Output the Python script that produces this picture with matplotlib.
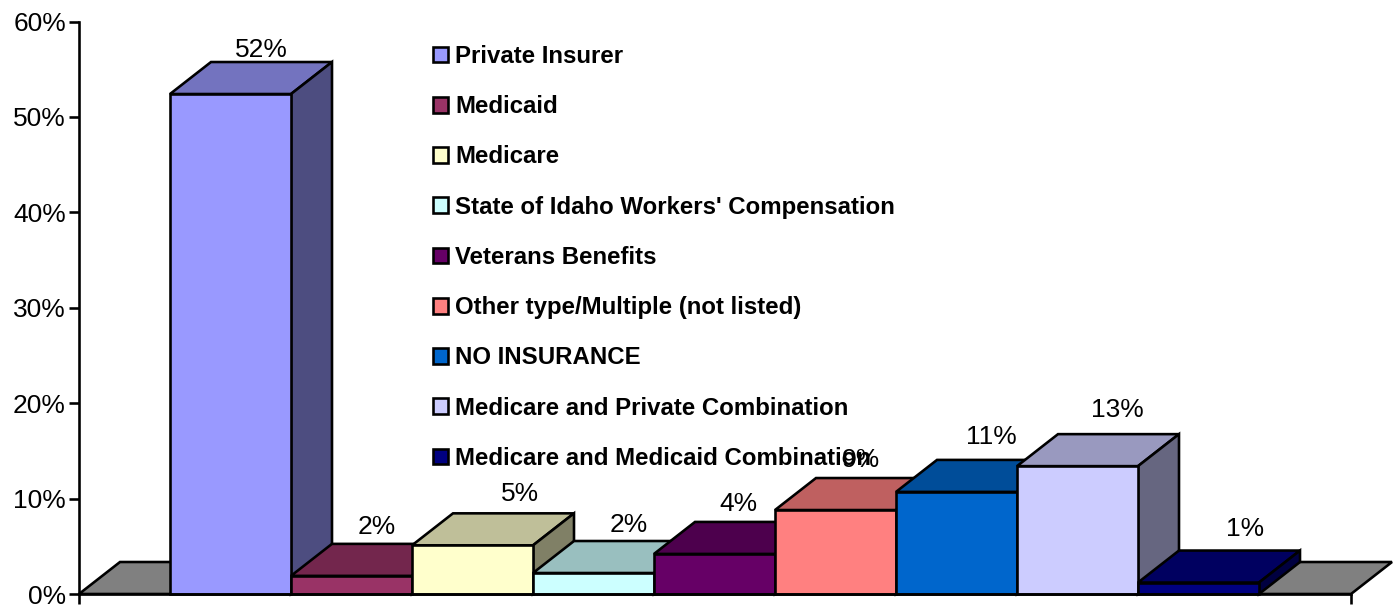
import matplotlib
matplotlib.use('Agg')
import matplotlib.pyplot as plt
from matplotlib.colors import to_rgb
from matplotlib.patches import Polygon, Patch

plt.rcParams['font.family'] = ['Liberation Sans', 'DejaVu Sans']

categories = ['Private Insurer', 'Medicaid', 'Medicare', "State of Idaho Workers' Compensation",
              'Veterans Benefits', 'Other type/Multiple (not listed)', 'NO INSURANCE',
              'Medicare and Private Combination', 'Medicare and Medicaid Combination']
values = [52.4, 1.9, 5.1, 2.2, 4.2, 8.8, 10.7, 13.4, 1.2]
value_labels = ['52%', '2%', '5%', '2%', '4%', '9%', '11%', '13%', '1%']
colors = ['#9999FF', '#993366', '#FFFFCC', '#CCFFFF', '#660066', '#FF8080', '#0066CC', '#CCCCFF', '#000080']

# where each label sits compared to the back right of its bar (pixels)
label_dx = [-71, -76, -54, -66, -78, -76, -67, -62, -55]
label_dy = [12, 17, 19, 16, 18, 18, 23, 24, 22]

W, H = 1399, 605
px = 72 / 100
fig = plt.figure(figsize=(W / 100, H / 100), dpi=100)
ax = fig.add_axes([79 / W, (H - 594) / H, 1272 / W, 572.5 / H])
ax.set_xlim(-0.5 - 91 / 121, 8.5 + 92 / 121)
ax.set_ylim(0, 60)

dx = 41 / 121
dy = 32 / (572.5 / 60)
lw = 2.6 * px
xl, xr = ax.get_xlim()


def shade(c, k):
    return tuple(v * k for v in to_rgb(c))


# floor
ax.add_patch(Polygon([(xl, 0), (xl + dx, dy), (xr + dx, dy), (xr, 0)], closed=True, fc='#808080',
                     ec='black', lw=lw, clip_on=False, zorder=1, joinstyle='miter'))

for i, v in enumerate(values):
    z = 2 + i
    l, r = i - 0.5, i + 0.5
    ax.add_patch(Polygon([(l, v), (l + dx, v + dy), (r + dx, v + dy), (r, v)], closed=True, fc=shade(colors[i], 0.75),
                         ec='black', lw=lw, clip_on=False, zorder=z, joinstyle='miter'))
    ax.add_patch(Polygon([(r, 0), (r + dx, dy), (r + dx, v + dy), (r, v)], closed=True, fc=shade(colors[i], 0.5),
                         ec='black', lw=lw, clip_on=False, zorder=z, joinstyle='miter'))
    ax.bar(i, v, width=1, color=colors[i], edgecolor='black', linewidth=lw, zorder=z, clip_on=False)
    ax.annotate(value_labels[i], xy=(r + dx, v + dy), xytext=(label_dx[i] * px, label_dy[i] * px),
                textcoords='offset points', ha='center', va='center', fontsize=19, zorder=20)

for s in ['top', 'right']:
    ax.spines[s].set_visible(False)
for s in ['left', 'bottom']:
    ax.spines[s].set_linewidth(lw)
    ax.spines[s].set_zorder(15)

ax.set_yticks(range(0, 61, 10))
ax.set_yticklabels([f'{t}%' for t in range(0, 61, 10)], fontsize=19)
ax.tick_params(axis='y', length=10 * px, width=lw, pad=3 * px)
ax.set_xticks([xl, xr])
ax.set_xticklabels([])
ax.tick_params(axis='x', length=10 * px, width=lw)

handles = [Patch(fc=c, ec='black', lw=lw) for c in colors]
fs = 17.25
fs_px = fs / px
leg = ax.legend(handles, categories, loc='upper left', bbox_to_anchor=(433 / W, (H - 45) / H),
                bbox_transform=fig.transFigure, frameon=False, borderaxespad=0, borderpad=0,
                prop={'size': fs, 'weight': 'bold'}, handlelength=15 / fs_px, handleheight=15 / fs_px,
                handletextpad=7 / fs_px, labelspacing=(51.2 - fs_px) / fs_px)
leg.set_zorder(19)

plt.savefig('out.png', dpi=100)
